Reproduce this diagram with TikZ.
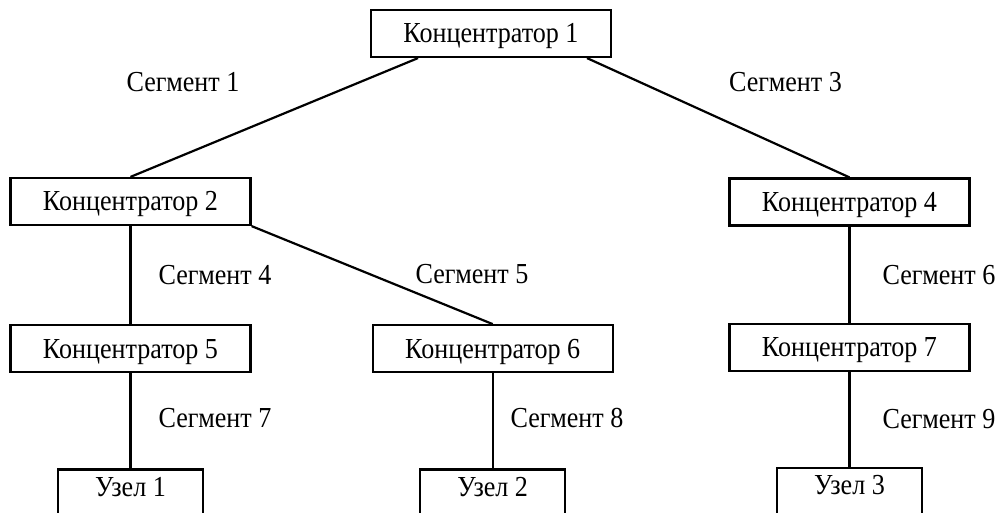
\documentclass[tikz,border=0pt]{standalone}
\usepackage{fontspec}
\setmainfont{Liberation Serif}[FakeStretch=0.9]
\usetikzlibrary{positioning}

\begin{document}
\begin{tikzpicture}[x=1pt, y=-1pt, line width=2.2pt, font=\fontsize{29}{30}\selectfont,
  k/.style={draw, minimum width=240pt, minimum height=47pt, inner sep=0pt, text height=19pt, text depth=0pt},
  u/.style={draw, minimum width=145pt, minimum height=47pt, inner sep=0pt, text height=19pt, text depth=12pt},
  seg/.style={inner sep=0pt, text height=19pt, text depth=0pt}]
	\useasboundingbox (0,0) rectangle (1003,513);
	% hubs
	\node (K1) [k] at (491,33.5) {Концентратор 1};
	\node (K2) [k] at (130.5,201.5) {Концентратор 2};
	\node (K4) [k] at (849.5,202) {Концентратор 4};
	\node (K5) [k, below=98pt of K2] {Концентратор 5};
	\node (K6) [k, right=120pt of K5] {Концентратор 6};
	\node (K7) [k, below=96pt of K4] {Концентратор 7};
	% end nodes
	\node (U1) [u, below=95pt of K5] {Узел 1};
	\node (U2) [u, below=95pt of K6] {Узел 2};
	\node (U3) [u, below=95pt of K7] {Узел 3};
	% links
	\draw ([xshift=-73pt]K1.south) -- (K2.north);
	\draw ([xshift=96pt]K1.south) -- (K4.north);
	\draw (K2.south) -- (K5.north);
	\draw (K2.south east) -- (K6.north);
	\draw (K4.south) -- (K7.north);
	\draw (K5.south) -- (U1.north);
	\draw (K6.south) -- (U2.north);
	\draw (K7.south) -- (U3.north);
	% segment labels
	\node (S1) [seg] at (183,82.5) {Сегмент 1};
	\node (S3) [seg] at (785.5,82.5) {Сегмент 3};
	\node (S4) [seg] at (215,275) {Сегмент 4};
	\node (S5) [seg] at (472,274) {Сегмент 5};
	\node (S6) [seg] at (939,275) {Сегмент 6};
	\node (S7) [seg] at (215,418) {Сегмент 7};
	\node (S8) [seg] at (567,418) {Сегмент 8};
	\node (S9) [seg] at (939,419) {Сегмент 9};
\end{tikzpicture}
\end{document}
